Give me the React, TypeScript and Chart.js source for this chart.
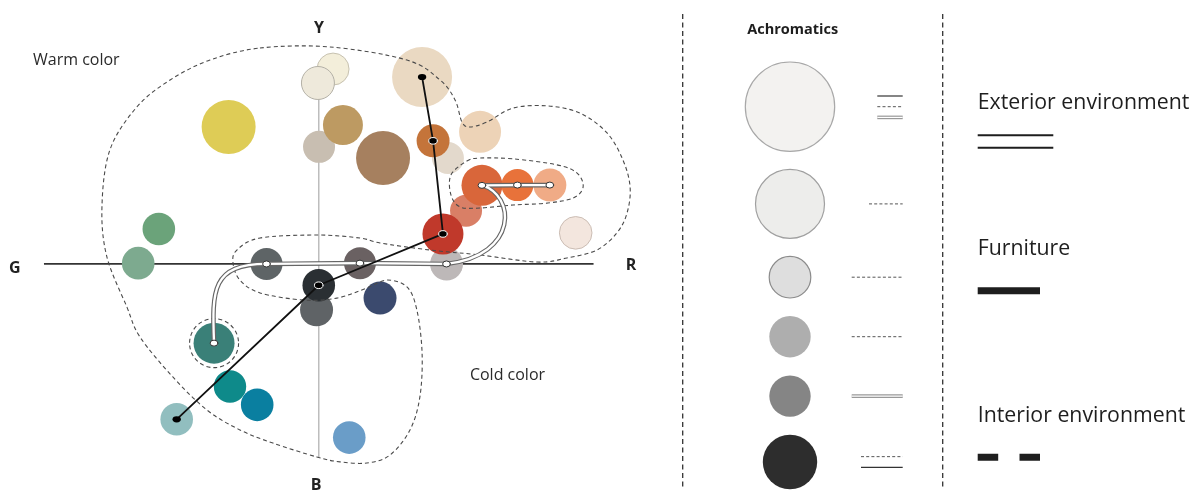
import React, { useEffect, useRef } from 'react';
import { Chart, registerables } from 'chart.js';

Chart.register(...registerables);

const FONT = '"Open Sans", "DejaVu Sans", sans-serif';

// ---------- Chromatic samples in the a*(G–R) / b*(B–Y) plane ----------
const sampleNames = [
  'yellow', 'creamBack', 'creamFront', 'grayBeige', 'gold', 'bigBeige', 'brown',
  'lightBeigeGray', 'copper', 'peach', 'salmon', 'orange1', 'orange2', 'orange3',
  'lightGray', 'red', 'lightPink', 'greenTop', 'green2', 'darkGray', 'taupe',
  'grayBelow', 'black', 'navy', 'darkTeal', 'teal', 'blueTeal', 'lightTeal', 'lightBlue',
];
const aValues = [
  -32.8, 5.2, -0.3, 0.1, 8.8, 37.6, 23.4,
  47.0, 41.6, 58.7, 53.6, 59.4, 72.3, 84.1,
  46.5, 45.2, 93.5, -58.2, -65.7, -19.0, 15.0,
  -0.8, 0.0, 22.3, -38.1, -32.3, -22.4, -51.7, 11.1,
];
const bValues = [
  50.2, 71.4, 66.3, 42.9, 50.9, 68.5, 38.8,
  38.8, 45.1, 48.4, 19.5, 28.8, 28.9, 28.9,
  0.0, 11.0, 11.4, 12.8, 0.3, 0.0, 0.3,
  -16.8, -7.8, -12.5, -29.0, -44.9, -51.6, -56.9, -63.6,
];
const sampleSizes = [
  27, 16, 16.5, 16, 20, 30, 27,
  16, 16.5, 21, 16, 20.5, 16, 16.5,
  16.5, 20.5, 16.3, 16.3, 16.3, 16, 16,
  16.5, 16.3, 16.5, 20.5, 16.2, 16.3, 16.3, 16.3,
];
const sampleFills = [
  '#DECC56', '#F3EEDA', '#EEE9DB', '#C8BEB1', '#BD9A62', '#EAD9C2', '#A6805F',
  '#E3D9CC', '#C4743A', '#EDD3B7', '#D97F66', '#D9663A', '#E8723A', '#F0AB86',
  '#BDB8B8', '#C0392B', '#F3E6DE', '#6BA37A', '#7DAA8F', '#5E6466', '#6A6162',
  '#5F6366', '#2A2F33', '#3B4A6E', '#3A8078', '#0E8A8A', '#0A7FA0', '#91BEBF', '#6A9DC8',
];
const sampleEdges = [
  null, '#C6C1B0', '#B3B0A6', null, null, null, null,
  null, null, null, null, null, null, null,
  null, null, '#CBBDB4', null, null, null, null,
  null, null, null, null, null, null, null, null,
];

// ---------- Connections ----------
const furnitureRoute = ['bigBeige', 'copper', 'red', 'black', 'lightTeal'];
const exteriorRoute = [
  { node: 'orange3', via: null },
  { node: 'orange2', via: null },
  { node: 'orange1', via: null },
  { node: 'lightGray', via: [[71.4, 25.3], [73.2, 3.3]] },
  { node: 'taupe', via: null },
  { node: 'darkGray', via: null },
  { node: 'darkTeal', via: [[-38.9, 0], [-38.9, -9.5]] },
];
const blackDotsRinged = ['copper', 'red', 'black'];
const blackDotsPlain = ['bigBeige', 'lightTeal'];
const whiteDots = ['orange1', 'orange2', 'orange3', 'lightGray', 'taupe', 'darkGray', 'darkTeal'];
const circledSample = 'darkTeal';

// ---------- Dashed region outlines (a*, b*) ----------
const mainRegionA = [
  -21.4, 4.1, 32.1, 44.1, 49.6, 52.1, 55.0, 61.2, 70.7, 83.1, 95.0, 104.9, 110.7, 113.3,
  112.2, 108.5, 101.2, 90.3, 79.4, 58.7, 40.5, 22.3, 15.0, -0.7, -21.4, -29.8, -31.2,
  -28.7, -21.4, -5.7, 6.6, 17.5, 24.8, 32.1, 35.7, 37.6, 36.8, 33.2, 25.9, 17.5, 7.7,
  -0.7, -16.7, -28.7, -40.7, -53.1, -65.1, -69.8, -77.1, -78.9, -76.0, -66.2, -54.1, -39.6,
];
const mainRegionB = [
  79.1, 79.5, 74.7, 67.4, 60.1, 52.0, 50.2, 52.0, 57.1, 57.9, 55.3, 48.0, 38.1, 28.2,
  18.7, 11.4, 5.1, 2.2, 0.7, 3.3, 5.1, 7.7, 9.5, 10.6, 9.5, 5.1, 0.4,
  -5.9, -10.6, -13.2, -12.5, -8.8, -5.9, -8.4, -16.8, -32.6, -48.7, -60.8, -70.0, -72.9, -72.5,
  -70.7, -65.6, -60.8, -53.5, -41.4, -26.7, -15.8, 2.6, 20.9, 41.8, 57.5, 67.4, 74.7,
];
const orangeRegionA = [53.9, 58.7, 70.7, 86.7, 94.0, 96.2, 92.6, 83.1, 70.7, 58.7, 51.4, 48.1, 48.1];
const orangeRegionB = [37.7, 38.8, 38.5, 36.3, 33.3, 28.2, 24.2, 22.3, 21.6, 20.5, 20.9, 25.3, 32.6];

// ---------- Axes and labels ----------
const axisExtentA = [-100, 100];
const axisExtentB = [66, -70.7];
const axisLabels = ['G', 'R', 'Y', 'B'];
const axisLabelA = [-110.6, 113.6, 0.1, -1.0];
const axisLabelB = [-1.5, -0.7, 86.4, -81.0];
const regionLabels = ['Warm color', 'Cold color'];
const regionLabelA = [-104.0, 55.0];
const regionLabelB = [74.4, -40.7];

// ---------- Legend ----------
const achromaticTitle = 'Achromatics';
const achromaticSizes = [44.7, 34.5, 20.8, 20.7, 20.7, 27.2];
const achromaticFills = ['#F3F2F0', '#EDEDEB', '#DEDEDE', '#AEAEAE', '#858585', '#2D2D2D'];
const achromaticEdges = ['#A8A8A8', '#A0A0A0', '#8C8C8C', null, null, null];
const achromaticLines = [
  ['solid', 'dashed', 'double'], ['dashed'], ['dashed'], ['dashed'], ['double'], ['dashed', 'solid'],
];
const achromaticLineLengths = [25.4, 33.7, 51, 51, 51, 41.7];
const environmentLabels = ['Exterior environment', 'Furniture', 'Interior environment'];
const environmentStyles = ['double', 'thick', 'dashedThick'];

const idx = (name: string) => sampleNames.indexOf(name);

function closedSpline(ctx: CanvasRenderingContext2D, pts: { x: number; y: number }[]) {
  const n = pts.length;
  ctx.moveTo(pts[0].x, pts[0].y);
  for (let i = 0; i < n; i++) {
    const p0 = pts[(i - 1 + n) % n];
    const p1 = pts[i];
    const p2 = pts[(i + 1) % n];
    const p3 = pts[(i + 2) % n];
    ctx.bezierCurveTo(
      p1.x + (p2.x - p0.x) / 6, p1.y + (p2.y - p0.y) / 6,
      p2.x - (p3.x - p1.x) / 6, p2.y - (p3.y - p1.y) / 6,
      p2.x, p2.y,
    );
  }
  ctx.closePath();
}

const diagramPlugin = {
  id: 'diagram',
  beforeDatasetsDraw(chart: any) {
    const ctx: CanvasRenderingContext2D = chart.ctx;
    const sx = chart.scales.x;
    const sy = chart.scales.y;
    ctx.save();
    ctx.strokeStyle = '#BDBDBD';
    ctx.lineWidth = 1.5;
    ctx.beginPath();
    ctx.moveTo(sx.getPixelForValue(0), sy.getPixelForValue(axisExtentB[0]));
    ctx.lineTo(sx.getPixelForValue(0), sy.getPixelForValue(axisExtentB[1]));
    ctx.stroke();
    ctx.strokeStyle = '#333';
    ctx.lineWidth = 1.7;
    ctx.beginPath();
    ctx.moveTo(sx.getPixelForValue(axisExtentA[0]), sy.getPixelForValue(0));
    ctx.lineTo(sx.getPixelForValue(axisExtentA[1]), sy.getPixelForValue(0));
    ctx.stroke();
    ctx.restore();
  },
  afterDatasetsDraw(chart: any) {
    const ctx: CanvasRenderingContext2D = chart.ctx;
    const sx = chart.scales.x;
    const sy = chart.scales.y;
    const meta = chart.getDatasetMeta(0);
    const pos = (name: string) => {
      const el = meta.data[idx(name)];
      return { x: el.x, y: el.y };
    };
    const P = (a: number, b: number) => ({ x: sx.getPixelForValue(a), y: sy.getPixelForValue(b) });
    ctx.save();

    ctx.setLineDash([4, 3]);
    ctx.strokeStyle = '#4A4A4A';
    ctx.lineWidth = 1.1;
    ctx.beginPath();
    closedSpline(ctx, mainRegionA.map((a, i) => P(a, mainRegionB[i])));
    ctx.stroke();
    ctx.beginPath();
    closedSpline(ctx, orangeRegionA.map((a, i) => P(a, orangeRegionB[i])));
    ctx.stroke();
    const c = pos(circledSample);
    ctx.beginPath();
    ctx.arc(c.x, c.y, sampleSizes[idx(circledSample)] + 4, 0, Math.PI * 2);
    ctx.stroke();
    ctx.setLineDash([]);

    const buildExterior = () => {
      ctx.beginPath();
      const s = pos(exteriorRoute[0].node);
      ctx.moveTo(s.x, s.y);
      for (let i = 1; i < exteriorRoute.length; i++) {
        const step = exteriorRoute[i];
        const t = pos(step.node);
        if (step.via) {
          const c1 = P(step.via[0][0], step.via[0][1]);
          const c2 = P(step.via[1][0], step.via[1][1]);
          ctx.bezierCurveTo(c1.x, c1.y, c2.x, c2.y, t.x, t.y);
        } else {
          ctx.lineTo(t.x, t.y);
        }
      }
    };
    ctx.lineJoin = 'round';
    ctx.lineCap = 'round';
    buildExterior();
    ctx.strokeStyle = '#666';
    ctx.lineWidth = 4.6;
    ctx.stroke();
    buildExterior();
    ctx.strokeStyle = '#FFFFFF';
    ctx.lineWidth = 2.3;
    ctx.stroke();

    ctx.beginPath();
    furnitureRoute.forEach((n, i) => {
      const p = pos(n);
      if (i === 0) ctx.moveTo(p.x, p.y);
      else ctx.lineTo(p.x, p.y);
    });
    ctx.strokeStyle = '#111';
    ctx.lineWidth = 1.8;
    ctx.stroke();

    const dot = (p: { x: number; y: number }, fill: string, stroke: string | null, rx: number, ry: number) => {
      ctx.beginPath();
      ctx.ellipse(p.x, p.y, rx, ry, 0, 0, Math.PI * 2);
      ctx.fillStyle = fill;
      ctx.fill();
      if (stroke) {
        ctx.strokeStyle = stroke;
        ctx.lineWidth = 1;
        ctx.stroke();
      }
    };
    whiteDots.forEach((n) => dot(pos(n), '#FFFFFF', '#333', 3.9, 3));
    blackDotsRinged.forEach((n) => dot(pos(n), '#000', '#FFFFFF', 4.3, 3.3));
    blackDotsPlain.forEach((n) => dot(pos(n), '#000', null, 4.2, 3.1));

    ctx.fillStyle = '#222';
    ctx.textBaseline = 'middle';
    ctx.textAlign = 'center';
    ctx.font = `bold 16px ${FONT}`;
    axisLabels.forEach((t, i) => {
      const p = P(axisLabelA[i], axisLabelB[i]);
      ctx.fillText(t, p.x, p.y);
    });
    ctx.textAlign = 'left';
    ctx.font = `16px ${FONT}`;
    ctx.fillStyle = '#2A2A2A';
    regionLabels.forEach((t, i) => {
      const p = P(regionLabelA[i], regionLabelB[i]);
      ctx.fillText(t, p.x, p.y);
    });
    ctx.restore();
  },
};

const LEG = {
  circleX: 125,
  firstTop: 62,
  gap: 18,
  lineRight: 237.7,
  lineSpacing: 10.7,
  sepX: [17.7, 277.7],
  textX: 312.7,
  textY: [103.3, 249.3, 416],
};
const achromaticCenters = (() => {
  const out: number[] = [];
  let y = LEG.firstTop;
  achromaticSizes.forEach((r) => {
    out.push(y + r);
    y += 2 * r + LEG.gap;
  });
  return out;
})();

const legendPlugin = {
  id: 'legendPanel',
  beforeDatasetsDraw(chart: any) {
    const ctx: CanvasRenderingContext2D = chart.ctx;
    ctx.save();
    ctx.strokeStyle = '#333';
    ctx.lineWidth = 1.3;
    ctx.setLineDash([5, 3.5]);
    LEG.sepX.forEach((x) => {
      ctx.beginPath();
      ctx.moveTo(x, 14);
      ctx.lineTo(x, 490);
      ctx.stroke();
    });
    ctx.setLineDash([]);
    ctx.restore();
  },
  afterDatasetsDraw(chart: any) {
    const ctx: CanvasRenderingContext2D = chart.ctx;
    const meta = chart.getDatasetMeta(0);
    ctx.save();
    ctx.fillStyle = '#1E1E1E';
    ctx.textAlign = 'center';
    ctx.textBaseline = 'middle';
    ctx.font = `bold 14.5px ${FONT}`;
    ctx.fillText(achromaticTitle, LEG.circleX + 2.7, 30);

    achromaticLines.forEach((styles, row) => {
      const cy = meta.data[row].y;
      const x1 = LEG.lineRight - achromaticLineLengths[row];
      const x2 = LEG.lineRight;
      styles.forEach((st, k) => {
        const y = cy + (k - (styles.length - 1) / 2) * LEG.lineSpacing;
        ctx.beginPath();
        ctx.moveTo(x1, y);
        ctx.lineTo(x2, y);
        if (st === 'solid') {
          ctx.setLineDash([]);
          ctx.strokeStyle = '#333';
          ctx.lineWidth = 1.2;
          ctx.stroke();
        } else if (st === 'dashed') {
          ctx.setLineDash([3, 2.2]);
          ctx.strokeStyle = '#555';
          ctx.lineWidth = 1;
          ctx.stroke();
          ctx.setLineDash([]);
        } else {
          ctx.setLineDash([]);
          ctx.strokeStyle = '#999';
          ctx.lineWidth = 3.6;
          ctx.stroke();
          ctx.beginPath();
          ctx.moveTo(x1, y);
          ctx.lineTo(x2, y);
          ctx.strokeStyle = '#FFF';
          ctx.lineWidth = 1.2;
          ctx.stroke();
        }
      });
    });

    ctx.textAlign = 'left';
    ctx.font = `21.3px ${FONT}`;
    ctx.fillStyle = '#1E1E1E';
    environmentLabels.forEach((t, i) => {
      const ty = LEG.textY[i];
      ctx.fillText(t, LEG.textX, ty);
      const x0 = LEG.textX;
      ctx.strokeStyle = '#1E1E1E';
      ctx.setLineDash([]);
      const st = environmentStyles[i];
      if (st === 'double') {
        ctx.lineWidth = 2;
        [32, 44.4].forEach((dy) => {
          ctx.beginPath();
          ctx.moveTo(x0, ty + dy);
          ctx.lineTo(x0 + 75.6, ty + dy);
          ctx.stroke();
        });
      } else if (st === 'thick') {
        ctx.lineWidth = 7;
        ctx.beginPath();
        ctx.moveTo(x0, ty + 41.4);
        ctx.lineTo(x0 + 62.3, ty + 41.4);
        ctx.stroke();
      } else {
        ctx.lineWidth = 7;
        ctx.setLineDash([20.5, 21.3]);
        ctx.beginPath();
        ctx.moveTo(x0, ty + 41.3);
        ctx.lineTo(x0 + 62.3, ty + 41.3);
        ctx.stroke();
        ctx.setLineDash([]);
      }
    });
    ctx.restore();
  },
};

export default function App() {
  const leftRef = useRef<HTMLCanvasElement>(null);
  const rightRef = useRef<HTMLCanvasElement>(null);

  useEffect(() => {
    if (!leftRef.current || !rightRef.current) return;
    const left = new Chart(leftRef.current, {
      type: 'bubble',
      data: {
        datasets: [
          {
            data: sampleNames.map((_, i) => ({ x: aValues[i], y: bValues[i], r: sampleSizes[i] })),
            backgroundColor: sampleFills,
            borderColor: sampleEdges.map((c) => c || 'rgba(0,0,0,0)'),
            borderWidth: sampleEdges.map((c) => (c ? 1 : 0)),
            clip: false as any,
          },
        ],
      },
      options: {
        responsive: false,
        animation: false,
        events: [],
        layout: { padding: 0, autoPadding: false },
        scales: {
          x: { type: 'linear', min: -116, max: 126, display: false },
          y: { type: 'linear', min: -82.8, max: 96.7, display: false },
        },
        plugins: { legend: { display: false }, tooltip: { enabled: false } },
      },
      plugins: [diagramPlugin],
    });

    const right = new Chart(rightRef.current, {
      type: 'bubble',
      data: {
        datasets: [
          {
            data: achromaticSizes.map((r, i) => ({ x: LEG.circleX, y: achromaticCenters[i], r })),
            backgroundColor: achromaticFills,
            borderColor: achromaticEdges.map((c) => c || 'rgba(0,0,0,0)'),
            borderWidth: achromaticEdges.map((c) => (c ? 1.2 : 0)),
            clip: false as any,
          },
        ],
      },
      options: {
        responsive: false,
        animation: false,
        events: [],
        layout: { padding: 0, autoPadding: false },
        scales: {
          x: { type: 'linear', min: 0, max: 534, display: false },
          y: { type: 'linear', min: 0, max: 490, reverse: true, display: false },
        },
        plugins: { legend: { display: false }, tooltip: { enabled: false } },
      },
      plugins: [legendPlugin],
    });

    return () => {
      left.destroy();
      right.destroy();
    };
  }, []);

  return (
    <div style={{ position: 'fixed', left: 0, top: 0, width: 1199, height: 490, background: '#fff', overflow: 'hidden' }}>
      <canvas ref={leftRef} width={665} height={490} style={{ position: 'absolute', left: 0, top: 0, width: 665, height: 490 }} />
      <canvas ref={rightRef} width={534} height={490} style={{ position: 'absolute', left: 665, top: 0, width: 534, height: 490 }} />
    </div>
  );
}
